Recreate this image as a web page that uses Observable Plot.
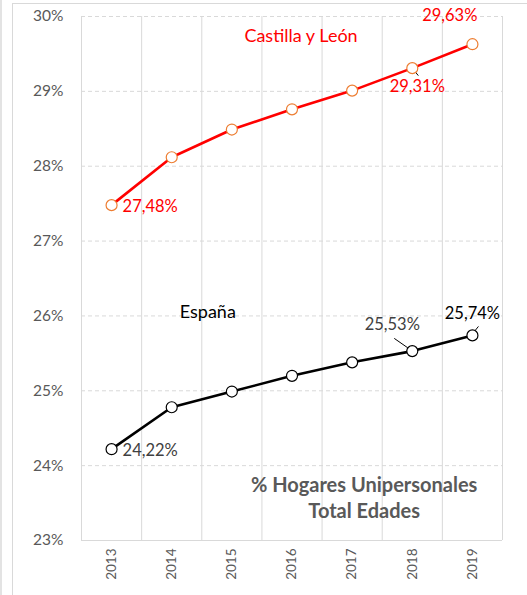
<!DOCTYPE html>
<html>
<head>
<meta charset="utf-8">
<script src="https://cdn.jsdelivr.net/npm/d3@7"></script>
<script src="https://cdn.jsdelivr.net/npm/@observablehq/plot@0.6"></script>
<style>
  html, body { margin: 0; padding: 0; background: #fff; }
  #wrap { position: relative; width: 527px; height: 595px; overflow: hidden; }
  #frame { position: absolute; left: 12px; top: 3px; right: -2px; bottom: -2px;
           border-left: 1.5px solid #d9d9d9; border-top: 1.5px solid #d9d9d9; }
  #edge { position: absolute; left: 0px; top: 0; bottom: 0; width: 2px; background: #e3e3e3; }
  #chart { position: absolute; left: 0; top: 0; }
</style>
</head>
<body>
<div id="wrap"><div id="edge"></div><div id="frame"></div><div id="chart"></div></div>
<script>
const years = [2013, 2014, 2015, 2016, 2017, 2018, 2019];
const castilla = [27.48, 28.12, 28.49, 28.76, 29.01, 29.31, 29.63];
const espana = [24.22, 24.78, 24.99, 25.20, 25.38, 25.53, 25.74];
const yTicks = [23, 24, 25, 26, 27, 28, 29, 30];

const seriesNames = ["Castilla y León", "España"];
const titleLines = ["% Hogares Unipersonales", "Total Edades"];

const fmt = v => v.toFixed(2).replace(".", ",") + "%";
const FONT = "Lato, 'Open Sans', sans-serif";

const cyl = years.map((y, i) => ({year: y, value: castilla[i]}));
const esp = years.map((y, i) => ({year: y, value: espana[i]}));
const boundaries = [years[0] - 0.5, ...years.map(y => y + 0.5)];

const labelsCyl = [
  {d: cyl[0], anchor: "start", dx: 11, dy: 2},
  {d: cyl[5], anchor: "middle", dx: 5, dy: 19},
  {d: cyl[6], anchor: "end", dx: 5, dy: -28}
];
const labelsEsp = [
  {d: esp[0], anchor: "start", dx: 11, dy: 2, fill: "#404040"},
  {d: esp[5], anchor: "middle", dx: -20, dy: -26, fill: "#404040"},
  {d: esp[6], anchor: "middle", dx: 0, dy: -22, fill: "#000"}
];

const chart = Plot.plot({
  width: 527,
  height: 595,
  marginLeft: 81,
  marginRight: 25,
  marginTop: 16,
  marginBottom: 55,
  style: {fontFamily: FONT, background: "transparent"},
  x: {domain: [years[0] - 0.5, years[years.length - 1] + 0.5], label: null},
  y: {domain: [23, 30], label: null},
  marks: [
    Plot.ruleY(yTicks.slice(1), {y: d => d, stroke: "#d9d9d9", strokeDasharray: "4,3", strokeWidth: 1}),
    Plot.ruleX(boundaries, {x: d => d, stroke: "#d9d9d9", strokeWidth: 1}),
    Plot.ruleY([23], {stroke: "#d9d9d9", strokeWidth: 1}),
    Plot.axisY(yTicks, {tickSize: 0, tickPadding: 18, tickFormat: d => d + "%", fontSize: 15.5, fill: "#595959", label: null}),
    Plot.axisX(years, {tickSize: 0, tickPadding: 8, tickRotate: -90, tickFormat: d => String(d), fontSize: 13.5, fill: "#595959", label: null}),
    Plot.link([esp[5]], {x1: d => d.year - 0.3, y1: d => d.value + 0.17, x2: d => d.year - 0.05, y2: d => d.value + 0.03, stroke: "#000", strokeWidth: 1}),
    Plot.link([esp[6]], {x1: d => d.year + 0.1, y1: d => d.value + 0.12, x2: d => d.year + 0.04, y2: d => d.value + 0.06, stroke: "#000", strokeWidth: 1}),
    Plot.link([cyl[5]], {x1: d => d.year + 0.05, y1: d => d.value - 0.05, x2: d => d.year + 0.1, y2: d => d.value - 0.1, stroke: "#000", strokeWidth: 1}),
    Plot.line(cyl, {x: "year", y: "value", stroke: "#ff0000", strokeWidth: 2.6}),
    Plot.line(esp, {x: "year", y: "value", stroke: "#000", strokeWidth: 2.6}),
    Plot.dot(cyl, {x: "year", y: "value", r: 5.5, fill: "#fff", stroke: "#ed7d31", strokeWidth: 1.2}),
    Plot.dot(esp, {x: "year", y: "value", r: 5.5, fill: "#fff", stroke: "#000", strokeWidth: 1.2}),
    ...labelsCyl.map(l => Plot.text([l.d], {x: "year", y: "value", text: d => fmt(d.value), textAnchor: l.anchor, dx: l.dx, dy: l.dy, fill: "#ff0000", fontSize: 16.5})),
    ...labelsEsp.map(l => Plot.text([l.d], {x: "year", y: "value", text: d => fmt(d.value), textAnchor: l.anchor, dx: l.dx, dy: l.dy, fill: l.fill, fontSize: 16.5})),
    Plot.text([seriesNames[0]], {x: 2016.15, y: 29.73, text: d => d, fill: "#ff0000", fontSize: 18}),
    Plot.text([seriesNames[1]], {x: 2014.6, y: 26.05, text: d => d, fill: "#000", fontSize: 18}),
    Plot.text([titleLines[0]], {x: 2017.2, y: 23.74, text: d => d, fill: "#595959", fontSize: 20, fontWeight: "bold"}),
    Plot.text([titleLines[1]], {x: 2017.2, y: 23.39, text: d => d, fill: "#595959", fontSize: 20, fontWeight: "bold"})
  ]
});
document.getElementById("chart").appendChild(chart);
</script>
</body>
</html>
